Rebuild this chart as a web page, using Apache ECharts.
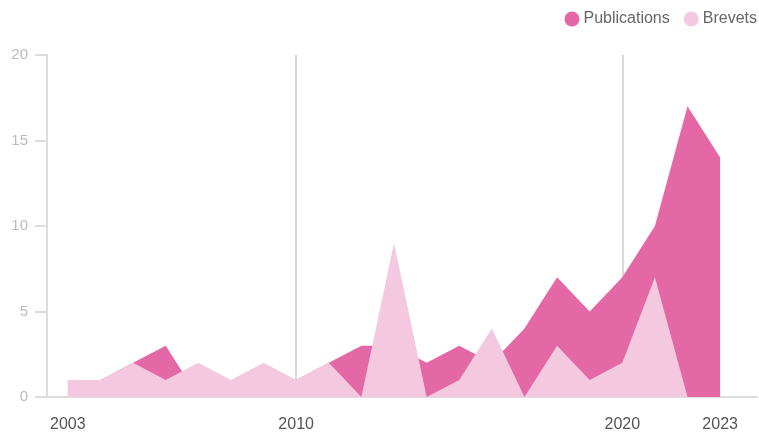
<!DOCTYPE html>
<html>
<head>
<meta charset="utf-8">
<script src="https://cdn.jsdelivr.net/npm/echarts@6/dist/echarts.min.js"></script>
<style>
    html, body { margin: 0; padding: 0; background: #fff; }
    #chart { width: 759px; height: 433px; }
</style>
</head>
<body>
<div id="chart"></div>
<script>
    // données
    var years = [2003, 2004, 2005, 2006, 2007, 2008, 2009, 2010, 2011, 2012, 2013,
                 2014, 2015, 2016, 2017, 2018, 2019, 2020, 2021, 2022, 2023];
    var publications = [1, 1, 2, 3, 0, 1, 1, 1, 2, 3, 3, 2, 3, 2, 4, 7, 5, 7, 10, 17, 14];
    var brevets = [1, 1, 2, 1, 2, 1, 2, 1, 2, 0, 9, 0, 1, 4, 0, 3, 1, 2, 7, 0, 0];
    var xLabels = [2003, 2010, 2020, 2023];
    var xGridYears = [2010, 2020];

    function pairs(values) {
        var out = [];
        for (var i = 0; i < years.length; i++) {
            out.push([years[i], values[i]]);
        }
        return out;
    }

    var font = '"Liberation Sans", Arial, sans-serif';

    var option = {
        animation: false,
        textStyle: { fontFamily: font },
        legend: {
            right: 2,
            top: 11,
            padding: 0,
            icon: 'circle',
            itemWidth: 15,
            itemHeight: 15,
            itemGap: 14,
            textStyle: { color: '#666', fontSize: 16, fontFamily: font, padding: [0, 0, 0, -1] },
            data: ['Publications', 'Brevets']
        },
        grid: {
            left: 47,
            right: 2,
            top: 55,
            bottom: 29
        },
        xAxis: {
            type: 'value',
            min: 2002.36,
            max: 2024.13,
            axisLine: { lineStyle: { color: '#dcdcdc', width: 2 } },
            axisTick: { show: false, customValues: xGridYears },
            axisLabel: {
                customValues: xLabels,
                color: '#555',
                fontSize: 16,
                margin: 20,
                fontFamily: font,
                formatter: function (v) { return String(v); }
            },
            splitLine: {
                show: true,
                lineStyle: { color: '#d9d9d9', width: 2 }
            }
        },
        yAxis: {
            type: 'value',
            min: 0,
            max: 20,
            interval: 5,
            axisLine: { show: true, lineStyle: { color: '#dcdcdc', width: 2 } },
            axisTick: { show: true, length: 12, lineStyle: { color: '#dcdcdc', width: 2 } },
            axisLabel: { color: '#bbb', fontSize: 15, margin: 19, fontFamily: font },
            splitLine: { show: false }
        },
        series: [
            {
                name: 'Publications',
                type: 'line',
                data: pairs(publications),
                showSymbol: false,
                symbol: 'none',
                lineStyle: { width: 0 },
                itemStyle: { color: '#e468a5' },
                areaStyle: { color: '#e468a5', opacity: 1 }
            },
            {
                name: 'Brevets',
                type: 'line',
                data: pairs(brevets),
                showSymbol: false,
                symbol: 'none',
                lineStyle: { width: 0 },
                itemStyle: { color: '#f4c8df' },
                areaStyle: { color: '#f4c8df', opacity: 1 }
            }
        ]
    };

    echarts.init(document.getElementById('chart')).setOption(option);
</script>
</body>
</html>
